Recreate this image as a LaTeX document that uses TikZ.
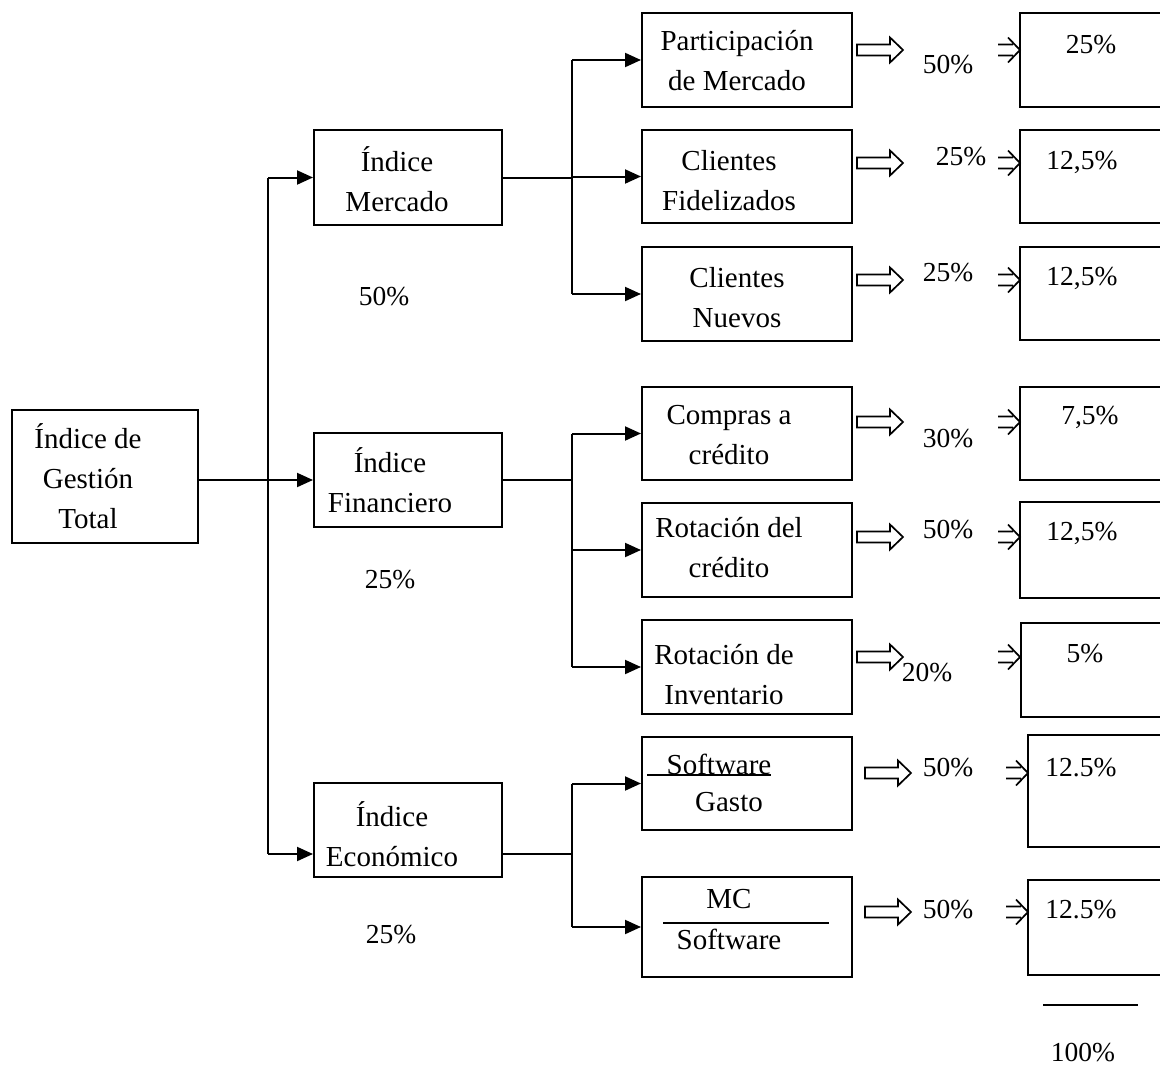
\documentclass[tikz,border=0pt]{standalone}
\usepackage{fontspec}
\setmainfont{Liberation Serif}
\usetikzlibrary{arrows.meta,calc,fit}
\tikzset{
  >={Triangle[length=16pt,width=14pt]},
  box/.style={draw,line width=2pt,inner sep=0pt},
  txt/.style={font=\fontsize{29}{40}\selectfont,align=center,inner sep=0pt},
  pct/.style={font=\fontsize{27.5}{33}\selectfont,inner sep=0pt},
  ln/.style={line width=2pt},
  arr/.style={->,line width=2pt},
  hollow/.pic={\draw[line width=1.7pt,line join=miter] (0,-5.5) -- (33,-5.5) -- (33,-12.5) -- (46,0) -- (33,12.5) -- (33,5.5) -- (0,5.5) -- cycle;},
  thin/.pic={\draw[line width=1.7pt] (0,-5.5) -- (15,-5.5) (0,5.5) -- (15,5.5) (10,-12.5) -- (22,0) -- (10,12.5);},
}
\begin{document}
\begin{tikzpicture}[x=1pt,y=-1pt]
\useasboundingbox (0,0) rectangle (1160,1068);
\clip (0,0) rectangle (1160,1068);
% left part
\node[box,fit={(12,410) (198,543)}] (gt) {};
\node[box,fit={(314,130) (502,225)}] (mer) {};
\node[box,fit={(314,433) (502,527)}] (fin) {};
\node[box,fit={(314,783) (502,877)}] (eco) {};
\node[txt] (gtt) at (88,476) {Índice de\\Gestión\\Total};
\node[txt] (mert) at (397,179) {Índice\\Mercado};
\node[txt] (fint) at (390,480) {Índice\\Financiero};
\node[txt] (ecot) at (392,834) {Índice\\Económico};
\node[pct] (pm) at (384,297) {50\%};
\node[pct] (pf) at (390,580) {25\%};
\node[pct] (pe) at (391,935) {25\%};
% second level
\node[box,fit={(642,13) (852,107)}] (par) {};
\node[box,fit={(642,130) (852,223)}] (fid) {};
\node[box,fit={(642,247) (852,341)}] (nue) {};
\node[box,fit={(642,387) (852,480)}] (com) {};
\node[box,fit={(642,503) (852,597)}] (rcr) {};
\node[box,fit={(642,620) (852,714)}] (rin) {};
\node[box,fit={(642,737) (852,830)}] (sg) {};
\node[box,fit={(642,877) (852,977)}] (mc) {};
\node[txt] (part) at (737,61) {Participación\\de Mercado};
\node[txt] (fidt) at (729,181) {Clientes\\Fidelizados};
\node[txt] (nuet) at (737,298) {Clientes\\Nuevos};
\node[txt] (comt) at (729,435) {Compras a\\crédito};
\node[txt] (rcrt) at (729,548) {Rotación del\\crédito};
\node[txt] (rint) at (724,675) {Rotación de\\Inventario};
\node[txt] (sgn) at (719,764) {Software};
\node[txt] (sgd) at (729,802) {Gasto};
\node[txt] (mcn) at (729,899) {MC};
\node[txt] (mcd) at (729,939) {Software};
\draw[ln] (647,775) -- (771,775);
\draw[ln] (663,923) -- (829,923);
% connectors
\coordinate (t1) at (268,0);
\coordinate (t2) at (572,0);
\coordinate (ein) at ($(eco.west)+(0,24)$);
\draw[arr] (gt.east |- fin.west) -- (fin.west);
\draw[ln] (t1 |- mer.west) -- (t1 |- ein);
\draw[arr] (t1 |- mer.west) -- (mer.west);
\draw[arr] (t1 |- ein) -- (ein);
\draw[ln] (mer.east) -- (mer.east -| t2);
\draw[ln] (fin.east) -- (fin.east -| t2);
\draw[ln] (ein -| eco.east) -- (ein -| t2);
\draw[ln] (t2 |- par.west) -- (t2 |- nue.west);
\draw[ln] (t2 |- com.west) -- (t2 |- rin.west);
\draw[ln] (t2 |- sg.west) -- (t2 |- mc.west);
\foreach \b in {par,fid,nue,com,rcr,rin,sg,mc} \draw[arr] (t2 |- \b.west) -- (\b.west);
% weights
\foreach \y in {50,163,280,422,537,657} \pic at (857,\y) {hollow};
\foreach \y in {773,912} \pic at (865,\y) {hollow};
\foreach \y in {50,163,280,422,537,657} \pic at (998,\y) {thin};
\foreach \y in {773,912} \pic at (1006,\y) {thin};
\foreach \t/\x/\y [count=\i] in {50\%/948/65, 25\%/961/157, 25\%/948/273, 30\%/948/439, 50\%/948/530, 20\%/927/673, 50\%/948/768, 50\%/948/910}
  \node[pct] (w\i) at (\x,\y) {\t};
\foreach \n/\x/\ya/\yb in {1/1020/13/107, 2/1020/130/223, 3/1020/247/340, 4/1020/387/480, 5/1020/502/598, 6/1021/623/717, 7/1028/735/847, 8/1028/880/975}
  \node[box,fit={(\x,\ya) (1250,\yb)}] (r\n) {};
\foreach \t/\x/\y [count=\i] in {25\%/1091/45, {12,5\%}/1082/162, {12,5\%}/1082/278, {7,5\%}/1090/417, {12,5\%}/1082/533, 5\%/1085/654, 12.5\%/1081/768, 12.5\%/1081/910}
  \node[pct] (v\i) at (\x,\y) {\t};
% total
\draw[ln] (1043,1005) -- (1138,1005);
\node[pct] (tot) at (1083,1053) {100\%};
\end{tikzpicture}
\end{document}
